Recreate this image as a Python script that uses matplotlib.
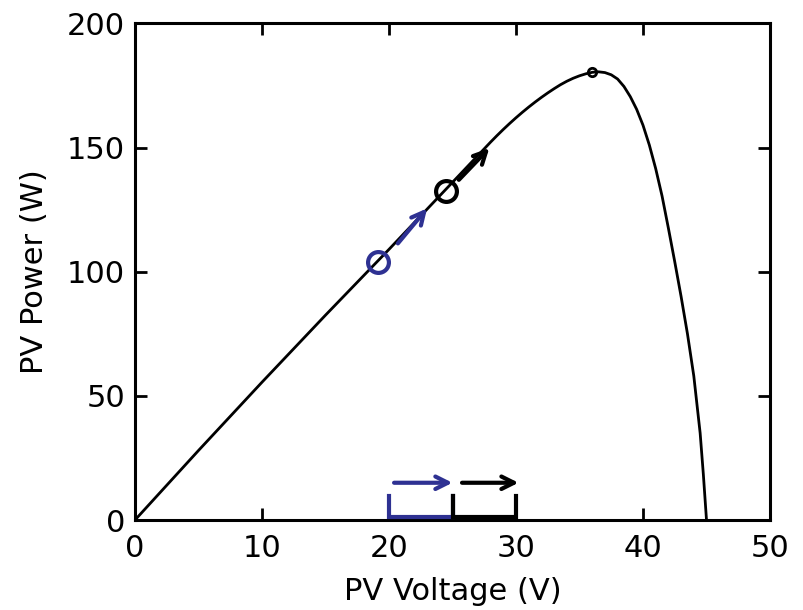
import matplotlib
matplotlib.use("Agg")
import matplotlib.pyplot as plt

# PV power curve
voltage = [0, 5, 10, 15, 20, 25, 27.5, 28, 28.5, 29, 29.5, 30, 30.5, 31, 31.5, 32, 32.5, 33,
           33.5, 34, 34.5, 35, 35.5, 36, 36.5, 37, 37.5, 38, 38.5, 39, 39.5, 40, 40.5, 41,
           41.5, 42, 42.5, 43, 43.5, 44, 44.5, 44.75, 45]
power = [0, 28, 55.5, 82.5, 109, 136, 149.5, 152.2, 154.8, 157.3, 159.7, 162, 164.2, 166.3,
         168.3, 170.2, 172, 173.7, 175.3, 176.7, 177.9, 178.9, 179.7, 180.3, 180.5, 180.2,
         179.3, 177.6, 174.6, 170.5, 165.4, 159, 151, 141.5, 130.5, 117.5, 104, 90, 75, 58,
         35, 18.5, 0]

# operating points
blue_point = (19.15, 103.9)
black_point = (24.45, 132.3)
mpp_point = (36.0, 180.5)

# perturbation arrows along curve
blue_arrow = ((20.7, 111.4), (23.0, 125.5))
black_arrow = ((25.5, 137.0), (27.9, 149.8))

# brackets on the voltage axis
blue_bracket = (20.0, 25.05)
black_bracket = (25.05, 30.0)
bracket_height = 9.7
bracket_base = 1.2
step_arrow_y = 15.0
blue_step = (20.4, 25.0)
black_step = (25.75, 30.2)

xticks = [0, 10, 20, 30, 40, 50]
yticks = [0, 50, 100, 150, 200]

BLUE = "#2E3192"
HEAD = "->,head_length=0.9,head_width=0.45"

plt.rcParams['font.family'] = ['DejaVu Sans']
fig = plt.figure(figsize=(8.04, 6.10), dpi=100)
ax = fig.add_axes([135/804, 1-520/610, 635/804, (520-23.4)/610])

ax.plot(voltage, power, color="black", lw=2.0, zorder=2, solid_joinstyle="round")

ax.plot(*blue_point, marker="o", ms=15, mfc="none", mec=BLUE, mew=3, zorder=4)
ax.plot(*black_point, marker="o", ms=15, mfc="none", mec="black", mew=3, zorder=4)
ax.plot(*mpp_point, marker="o", ms=6, mfc="none", mec="black", mew=2, zorder=4)

for (s, e), c in [(blue_arrow, BLUE), (black_arrow, "black")]:
    ax.annotate("", xy=e, xytext=s,
                arrowprops=dict(arrowstyle=HEAD, color=c, lw=3, shrinkA=0, shrinkB=0), zorder=5)

for (x0, x1), c in [(blue_bracket, BLUE), (black_bracket, "black")]:
    ax.plot([x0, x0, x1, x1], [bracket_height, bracket_base, bracket_base, bracket_height],
            color=c, lw=3, solid_joinstyle="miter", zorder=3, clip_on=False)

for (x0, x1), c in [(blue_step, BLUE), (black_step, "black")]:
    ax.annotate("", xy=(x1, step_arrow_y), xytext=(x0, step_arrow_y),
                arrowprops=dict(arrowstyle=HEAD, color=c, lw=3, shrinkA=0, shrinkB=0), zorder=5)

ax.set_xlim(0, 50)
ax.set_ylim(0, 200)
ax.set_xticks(xticks)
ax.set_yticks(yticks)
ax.tick_params(direction="in", length=8.5, width=2, labelsize=22, top=True, right=True, pad=7)
ax.tick_params(axis="x", pad=10)
for sp in ax.spines.values():
    sp.set_linewidth(2.2)

ax.set_xlabel("PV Voltage (V)", fontsize=22, labelpad=10)
ax.set_ylabel("PV Power (W)", fontsize=22, labelpad=13)

fig.savefig("out.png", dpi=100)
